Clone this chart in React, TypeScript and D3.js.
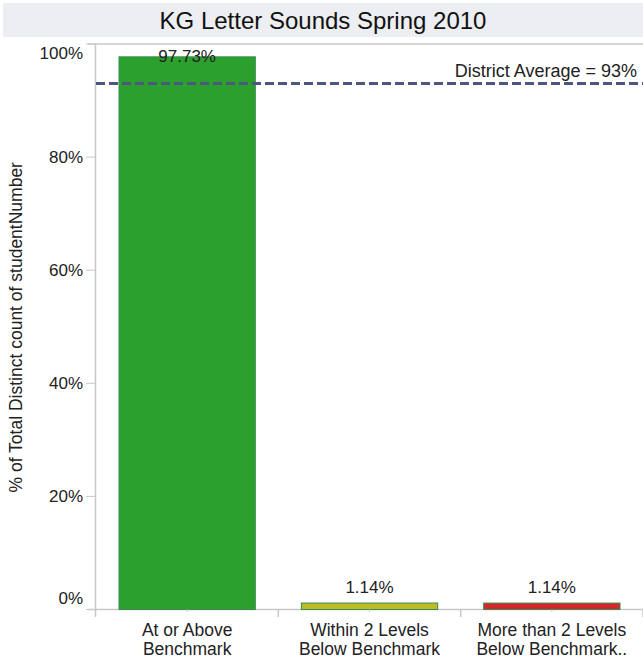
import React from "react";
import * as d3 from "d3";

const categories = ["At or Above|Benchmark", "Within 2 Levels|Below Benchmark", "More than 2 Levels|Below Benchmark.."];
const values = [97.73, 1.14, 1.14];
const barColors = ["#2ca02c", "#bcbd22", "#d62728"];
const valueLabels = ["97.73%", "1.14%", "1.14%"];
const yTicks = [0, 20, 40, 60, 80, 100];
const districtAverage = 93;
const title = "KG Letter Sounds Spring 2010";
const yAxisTitle = "% of Total Distinct count of studentNumber";

export default function App() {
  const W = 643, H = 657;
  const left = 96, right = 643, top = 44, bottom = 609.5;
  const x = d3.scaleBand<string>().domain(categories).range([left, right]).paddingInner(0).paddingOuter(0);
  const y = d3.scaleLinear().domain([0, 100]).range([bottom, top]);
  const barPad = 23;
  const font = "'Liberation Sans', Arial, sans-serif";
  const bw = x.bandwidth();

  return (
    <svg width={W} height={H} style={{ position: "absolute", left: 0, top: 0, fontFamily: font }}>
      <rect x={0} y={0} width={W} height={H} fill="#ffffff" />
      <rect x={3} y={3} width={W - 3} height={34} fill="#eceef1" />
      <text x={323} y={29} textAnchor="middle" fontSize={24} fill="#111">{title}</text>

      <line x1={88} x2={W} y1={top} y2={top} stroke="#c8c8c8" strokeWidth={1.5} />
      <line x1={left - 0.5} x2={left - 0.5} y1={top} y2={617} stroke="#c8c8c8" strokeWidth={1.5} />
      <line x1={88} x2={W} y1={bottom} y2={bottom} stroke="#c8c8c8" strokeWidth={1.5} />

      {yTicks.map((t) => {
        const ty = y(t);
        let ly = ty + 6;
        if (t === 100) ly = 59;
        if (t === 0) ly = 604;
        return (
          <g key={t}>
            <line x1={86} x2={left} y1={ty} y2={ty} stroke="#c8c8c8" strokeWidth={1} />
            <text x={83} y={ly} textAnchor="end" fontSize={17} fill="#222">{t}%</text>
          </g>
        );
      })}

      <text transform={`translate(22, ${(top + bottom) / 2 + 0.5}) rotate(-90)`} textAnchor="middle" fontSize={17.5} fill="#222">{yAxisTitle}</text>

      {categories.map((c, i) => {
        const x0 = x(c)!;
        const yt = y(values[i]);
        const lines = c.split("|");
        const lblY = Math.max(yt - 10, 62);
        return (
          <g key={c}>
            <rect x={x0 + barPad} y={yt} width={bw - 2 * barPad} height={bottom - yt} fill={barColors[i]} stroke="#3b8a55" strokeWidth={1} />
            <text x={x0 + bw / 2} y={lblY} textAnchor="middle" fontSize={17} fill="#222">{valueLabels[i]}</text>
            <line x1={x0 + bw} x2={x0 + bw} y1={bottom} y2={617} stroke="#c8c8c8" strokeWidth={1.5} />
            <line x1={x0 + bw / 2} x2={x0 + bw / 2} y1={bottom} y2={612} stroke="#c8c8c8" strokeWidth={1} />
            {lines.map((l, k) => (
              <text key={k} x={x0 + bw / 2} y={636 + k * 18.5} textAnchor="middle" fontSize={17.5} fill="#222">{l}</text>
            ))}
          </g>
        );
      })}

      <line x1={left} x2={W} y1={y(districtAverage)} y2={y(districtAverage)} stroke="#4b5780" strokeWidth={3} strokeDasharray="9,4" />
      <text x={637} y={77} textAnchor="end" fontSize={18} fill="#222">District Average = {districtAverage}%</text>
    </svg>
  );
}
